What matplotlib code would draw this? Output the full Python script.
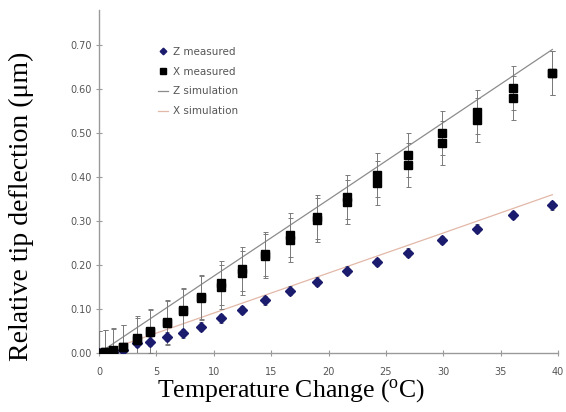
import matplotlib
matplotlib.use("Agg")
import matplotlib.pyplot as plt

# temperature change (deg C) of each measurement step
temps = [0, 0.5, 1.2, 2.1, 3.3, 4.4, 5.9, 7.3, 8.9, 10.6, 12.5, 14.5, 16.6,
         19.0, 21.6, 24.2, 26.9, 29.9, 32.9, 36.1, 39.5]

# X direction, two measurement runs (um)
x_run1 = [0.0, 0.002, 0.005, 0.013, 0.03, 0.048, 0.069, 0.095, 0.126, 0.15,
          0.183, 0.22, 0.258, 0.302, 0.343, 0.386, 0.427, 0.477, 0.530, 0.580, 0.636]
x_run2 = [0.0, 0.003, 0.006, 0.014, 0.034, 0.050, 0.071, 0.098, 0.128, 0.16,
          0.192, 0.226, 0.268, 0.310, 0.355, 0.405, 0.450, 0.500, 0.548, 0.602, 0.636]
x_err = 0.05

# Z direction measured (um)
z_meas = [0.0, 0.001, 0.003, 0.008, 0.023, 0.026, 0.037, 0.045, 0.06, 0.079,
          0.098, 0.12, 0.142, 0.162, 0.187, 0.207, 0.228, 0.257, 0.283, 0.314, 0.336]
z_err = 0.01

# simulations
sim_t = [0, 10, 20, 30, 39.5]
x_sim = [0.0, 0.175, 0.349, 0.524, 0.69]
z_sim = [0.0, 0.091, 0.182, 0.273, 0.36]

fig = plt.figure(figsize=(5.66, 4.12), dpi=100)
ax = fig.add_axes([0.175, 0.143, 0.811, 0.833])

l_zs, = ax.plot(sim_t, x_sim, '-', color='#8c8c8c', lw=0.9, label='Z simulation', zorder=2)
l_xs, = ax.plot(sim_t, z_sim, '-', color='#e2b8a8', lw=0.9, label='X simulation', zorder=2)

for run in (x_run1, x_run2):
    ax.errorbar(temps, run, yerr=x_err, fmt='none', ecolor='#7a7a7a', elinewidth=0.7,
                capsize=1.8, capthick=0.7, zorder=3)
ax.errorbar(temps, z_meas, yerr=z_err, fmt='none', ecolor='#7a7a7a', elinewidth=0.7,
            capsize=1.5, capthick=0.7, zorder=3)

l_zm, = ax.plot(temps, z_meas, 'D', color='#1c1c6e', ms=4.8, ls='none', label='Z measured', zorder=4)
l_xm, = ax.plot(temps, x_run1, 's', color='black', ms=6, ls='none', label='X measured', zorder=4)
ax.plot(temps, x_run2, 's', color='black', ms=6, ls='none', zorder=4)

ax.set_xlim(0, 40)
ax.set_ylim(0, 0.78)
ax.set_xticks(range(0, 41, 5))
ax.set_yticks([0, 0.1, 0.2, 0.3, 0.4, 0.5, 0.6, 0.7])
ax.set_yticklabels(['%.2f' % v for v in ax.get_yticks()])

for s in ['top', 'right']:
    ax.spines[s].set_visible(False)
for s in ['left', 'bottom']:
    ax.spines[s].set_color('#9a9a9a')
    ax.spines[s].set_linewidth(1.0)
ax.tick_params(axis='both', colors='#9a9a9a', labelcolor='#555555', labelsize=7,
               direction='inout', length=4)
ax.tick_params(axis='x', pad=8)

serif = ['Liberation Serif', 'DejaVu Serif']
fig.text(291 / 566, 1 - 391 / 412, 'Temperature Change ($\\mathregular{^{o}}$C)', family=serif,
         fontsize=18.5, ha='center', va='center')
fig.text(21 / 566, 1 - 206 / 412, 'Relative tip deflection (\u03bcm)', family=serif,
         fontsize=20, ha='center', va='center', rotation=90)

leg = ax.legend([l_zm, l_xm, l_zs, l_xs], ['Z measured', 'X measured', 'Z simulation', 'X simulation'],
                loc='upper left', bbox_to_anchor=(0.1285, 0.893), frameon=False, fontsize=7.5,
                handlelength=1.0, handletextpad=0.4, labelspacing=0.95, markerscale=0.7,
                borderpad=0, borderaxespad=0)
for t in leg.get_texts():
    t.set_color('#555555')

fig.savefig('out.png', dpi=100)
